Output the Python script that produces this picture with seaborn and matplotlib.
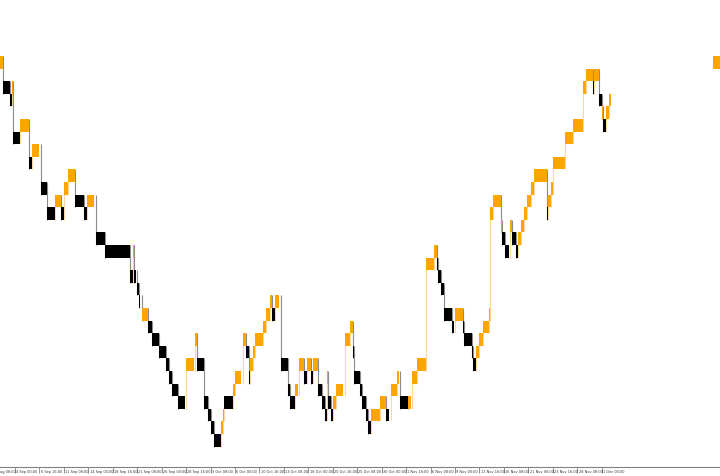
import matplotlib
matplotlib.use("Agg")
import matplotlib.pyplot as plt
import seaborn as sns

# renko bricks on an H4 chart: start bar, end bar, brick bottom level, direction (1 up / 0 down)
brick_start = [4, 8, 13, 14, 15, 19, 25, 27, 33, 37, 42, 46, 48, 51, 55, 61, 63, 69, 75, 91,
               93, 94, 96, 97, 99, 103, 106, 110, 115, 117, 119, 123, 128, 134, 135, 140, 142, 144, 146, 151,
               152, 153, 159, 160, 165, 167, 169, 170, 172, 173, 178, 180, 183, 184, 186, 190, 195, 196, 199, 202,
               205, 207, 210, 211, 214, 217, 219, 220, 221, 223, 224, 226, 232, 235, 237, 238, 242, 243, 246, 247,
               249, 255, 259, 262, 266, 268, 273, 276, 279, 285, 290, 292, 293, 295, 297, 302, 304, 309, 310, 315,
               316, 318, 320, 322, 326, 327, 329, 334, 335, 337, 340, 341, 344, 345, 347, 349, 351, 354, 356, 364,
               365, 367, 368, 376, 381, 388, 390, 394, 395, 398, 400, 401, 403, 405, 473]
brick_end = [8, 13, 14, 15, 19, 25, 27, 32, 37, 42, 46, 48, 51, 55, 61, 63, 68, 75, 91, 93,
             94, 95, 97, 98, 103, 106, 110, 115, 117, 119, 123, 127, 133, 135, 140, 142, 144, 146, 151, 152,
             153, 159, 160, 164, 167, 169, 170, 172, 173, 178, 180, 183, 184, 186, 189, 195, 196, 199, 201, 205,
             207, 210, 211, 214, 217, 219, 220, 221, 223, 224, 226, 231, 235, 237, 238, 242, 243, 246, 247, 249,
             255, 259, 261, 266, 267, 273, 275, 279, 285, 290, 292, 293, 295, 297, 302, 303, 309, 310, 315, 316,
             318, 320, 322, 326, 327, 329, 334, 335, 337, 339, 341, 344, 345, 347, 349, 351, 354, 356, 364, 365,
             367, 368, 376, 381, 388, 390, 394, 395, 398, 400, 401, 403, 405, 406, 478]
brick_level = [31, 29, 28, 29, 25, 26, 23, 24, 21, 19, 20, 19, 21, 22, 20, 19, 20, 17, 16, 14,
               16, 14, 13, 12, 11, 10, 9, 8, 7, 6, 5, 4, 7, 9, 7, 4, 3, 2, 1, 2,
               3, 4, 5, 6, 9, 8, 6, 7, 8, 9, 10, 11, 12, 11, 12, 7, 5, 4, 5, 7,
               6, 7, 6, 7, 5, 4, 3, 6, 4, 3, 4, 5, 9, 10, 8, 6, 5, 4, 3, 2,
               3, 4, 3, 5, 6, 4, 4, 6, 7, 15, 16, 15, 14, 13, 11, 10, 11, 10, 9, 8,
               7, 8, 9, 10, 11, 19, 20, 18, 17, 16, 18, 17, 16, 17, 18, 19, 20, 21, 22, 19,
               20, 21, 23, 25, 26, 29, 30, 29, 30, 28, 27, 26, 27, 28, 31]
brick_dir = [1, 0, 0, 1, 0, 1, 0, 1, 0, 0, 1, 0, 1, 1, 0, 0, 1, 0, 0, 0,
             1, 0, 0, 0, 1, 0, 0, 0, 0, 0, 0, 0, 1, 1, 0, 0, 0, 0, 0, 1,
             1, 0, 1, 1, 1, 0, 0, 1, 1, 1, 1, 1, 1, 0, 1, 0, 0, 0, 1, 1,
             0, 1, 0, 1, 0, 0, 0, 1, 0, 0, 1, 1, 1, 1, 0, 0, 0, 0, 0, 0,
             1, 1, 0, 1, 1, 0, 1, 1, 1, 1, 1, 0, 0, 0, 0, 0, 1, 0, 0, 0,
             0, 1, 1, 1, 1, 1, 1, 1, 0, 0, 1, 0, 0, 1, 1, 1, 1, 1, 1, 0,
             1, 1, 1, 1, 1, 1, 1, 0, 1, 0, 1, 0, 1, 1, 1]

# time axis: one label every 16 H4 bars
tick_bars = list(range(0, 401, 16))
tick_labels = ["30 Aug 08:00", "4 Sep 00:00", "6 Sep 16:00", "11 Sep 08:00", "14 Sep 00:00",
               "18 Sep 16:00", "21 Sep 08:00", "26 Sep 00:00", "28 Sep 16:00", "3 Oct 08:00",
               "6 Oct 00:00", "10 Oct 16:00", "13 Oct 08:00", "18 Oct 00:00", "20 Oct 16:00",
               "25 Oct 08:00", "30 Oct 00:00", "1 Nov 16:00", "6 Nov 08:00", "9 Nov 00:00",
               "13 Nov 16:00", "16 Nov 08:00", "21 Nov 00:00", "23 Nov 16:00", "28 Nov 08:00",
               "1 Dec 00:00"]

UP = "#FFA500"
DOWN = "#000000"

sns.set_theme(style="white")
plt.rcParams["font.family"] = ["DejaVu Sans"]

fig = plt.figure(figsize=(7.2, 4.77), dpi=100)
ax = fig.add_axes([0, 9 / 477, 1, 468 / 477])

# connecting lines between consecutive bricks
for i in range(1, len(brick_start)):
    if brick_start[i] - brick_end[i - 1] > 10:
        continue
    lo = min(brick_level[i], brick_level[i - 1])
    hi = max(brick_level[i], brick_level[i - 1]) + 1
    col = "#FFD89A" if brick_level[i] > brick_level[i - 1] else "#8C8C8C"
    ax.vlines(brick_start[i], lo, hi, color=col, lw=0.8, zorder=1)

widths = [e - s for s, e in zip(brick_start, brick_end)]
colors = [UP if d else DOWN for d in brick_dir]
ax.bar(brick_start, [1] * len(brick_start), width=widths, bottom=brick_level,
       align="edge", color=colors, linewidth=0, zorder=2)

ax.set_xlim(6.2, 477.4)
ax.set_ylim(-0.62, 36.52)

for s in ["top", "left", "right"]:
    ax.spines[s].set_visible(False)
ax.spines["bottom"].set_color("#808080")
ax.spines["bottom"].set_linewidth(0.8)
ax.set_yticks([])
ax.set_xticks(tick_bars[1:])
ax.tick_params(axis="x", length=4, width=0.6, color="#808080", labelbottom=False,
               direction="out", bottom=True)

trans = ax.get_xaxis_transform()
for b, lab in zip(tick_bars, tick_labels):
    ax.text(b + 0.8, -0.0095, lab, transform=trans, ha="left", va="center",
            fontsize=2.5, color="#333333", clip_on=False)

fig.savefig("out.png", dpi=100)
